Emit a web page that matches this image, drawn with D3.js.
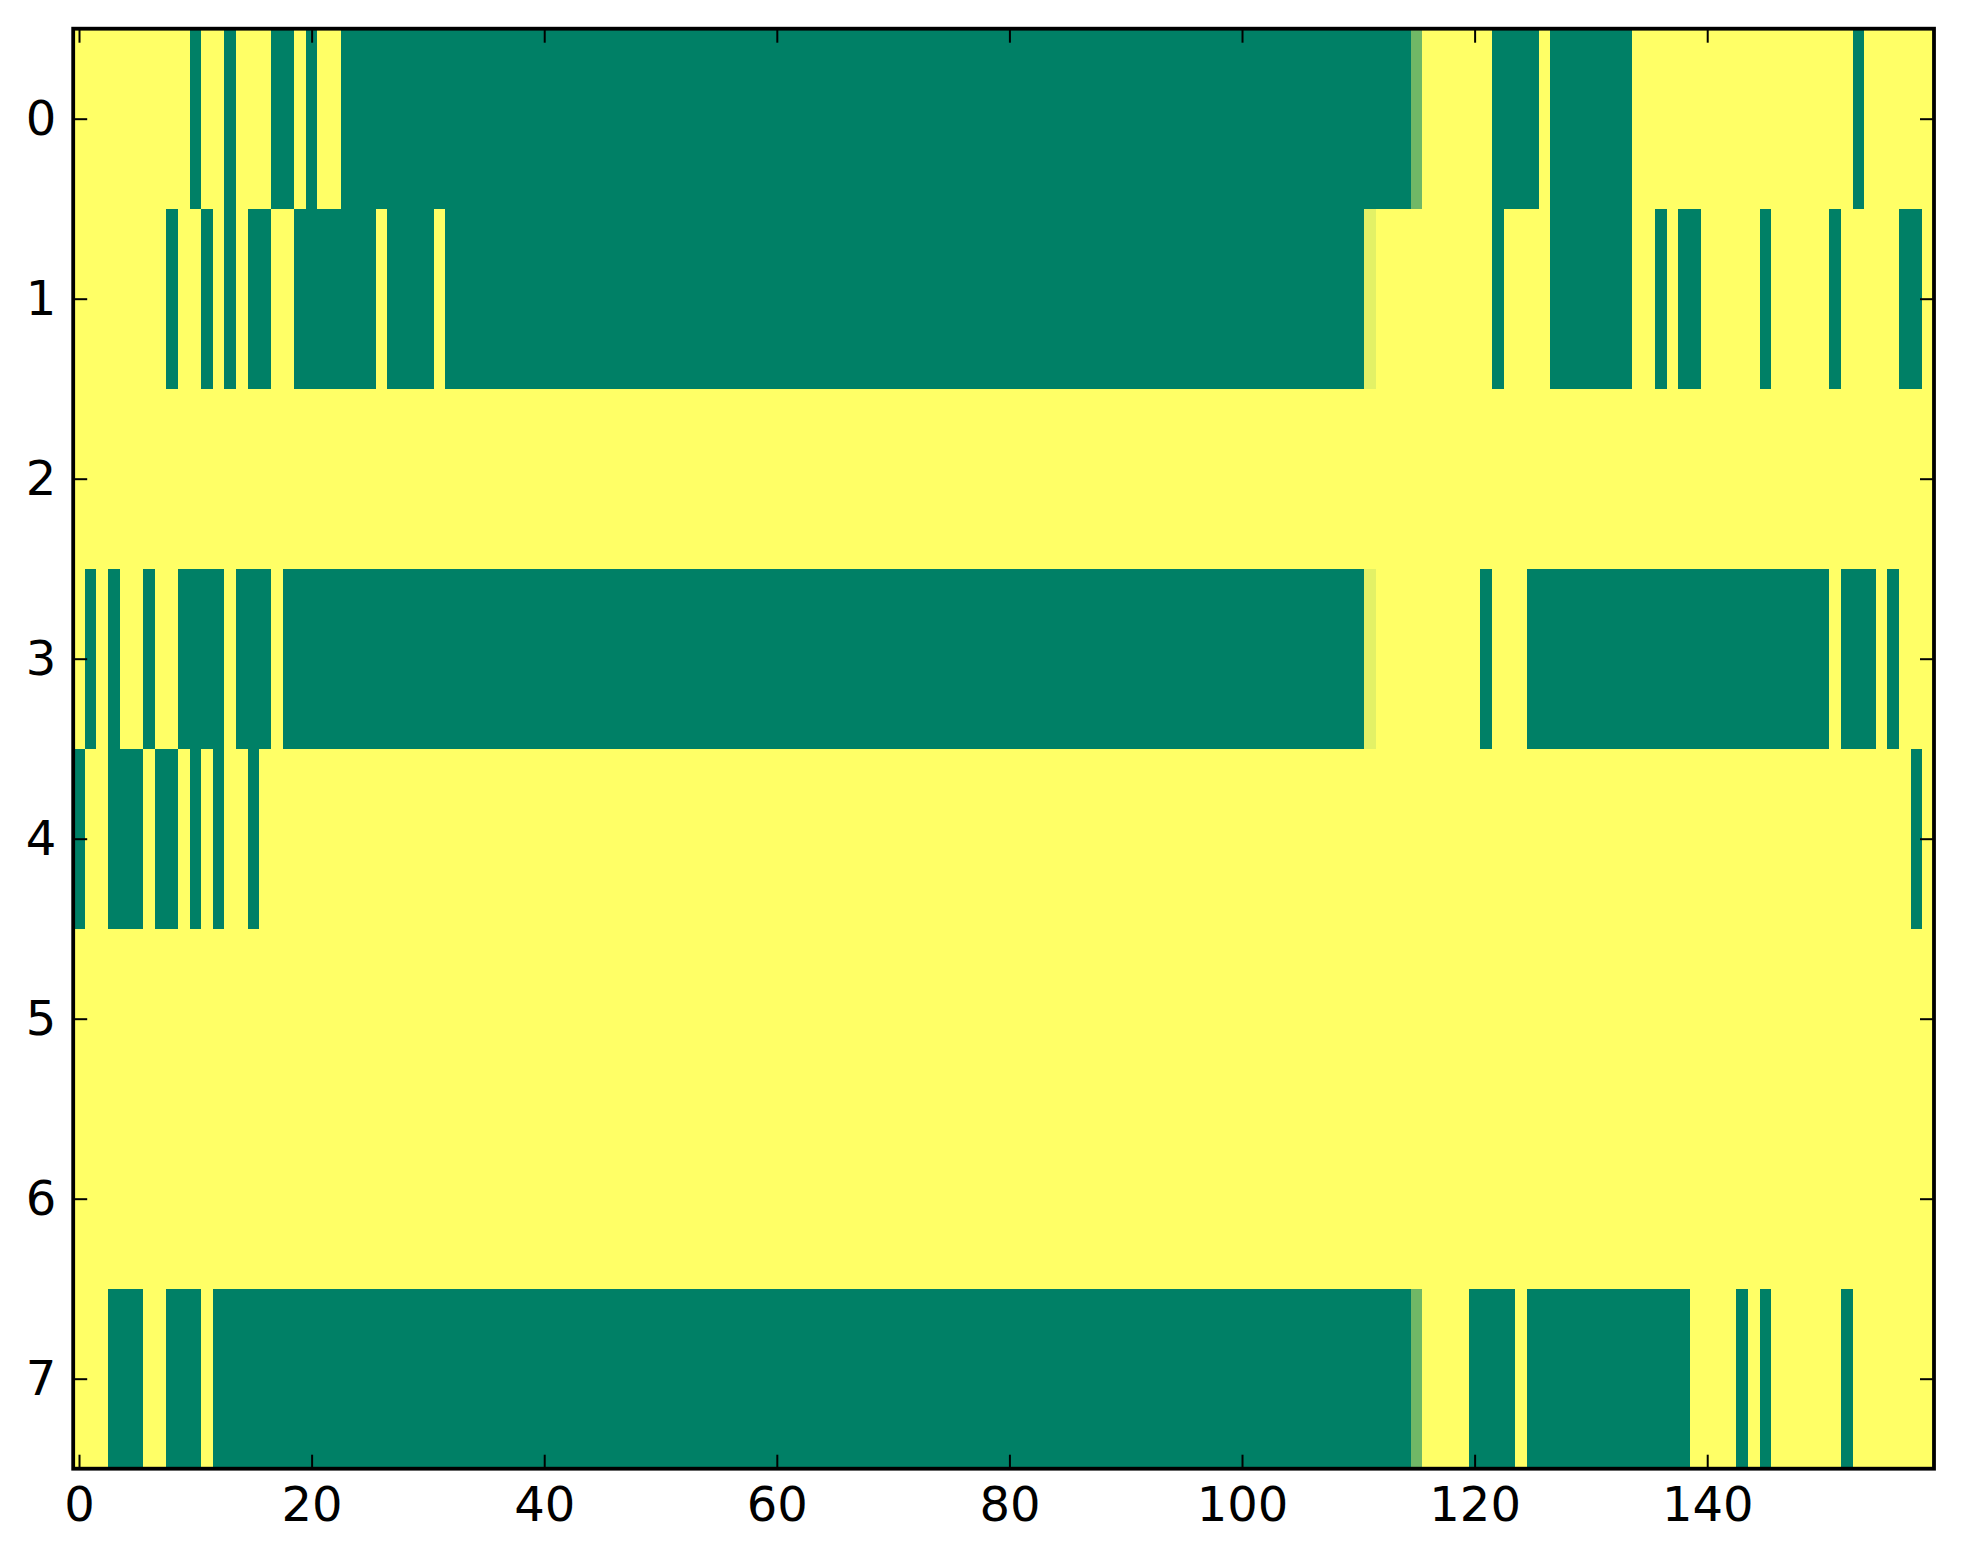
<!DOCTYPE html>
<html>
<head>
    <meta charset="utf-8" />
    <title>Heatmap (summer colormap)</title>
    <style>
        body {
            margin: 0;
            background-color: white;
        }

        .tick text {
            font: 48px "DejaVu Sans", sans-serif;
            fill: black;
        }
    </style>
    <script src="https://cdnjs.cloudflare.com/ajax/libs/d3/7.8.5/d3.min.js"></script>
</head>
<body>
    <script>
        // cell values, one string per row, groups of 10 columns
        // "0" = 0 (green), "1" = 1 (yellow), "m" = mid value, "h" = high value
        var cellLevels = { "0": 0, "1": 1, "m": 0.44, "h": 0.89 };

        var rowData = [
            "1111111111 0110111001 0110000000 0000000000 0000000000 0000000000 0000000000 0000000000 0000000000 0000000000 0000000000 00000m1111 1100001000 0000111111 1111111111 1110111111",
            "1111111101 1010100110 0000001000 0100000000 0000000000 0000000000 0000000000 0000000000 0000000000 0000000000 0000000000 0h11111111 1101111000 0000110100 1111101111 1011111001",
            "1111111111 1111111111 1111111111 1111111111 1111111111 1111111111 1111111111 1111111111 1111111111 1111111111 1111111111 1111111111 1111111111 1111111111 1111111111 1111111111",
            "1010110110 0001000100 0000000000 0000000000 0000000000 0000000000 0000000000 0000000000 0000000000 0000000000 0000000000 0h11111111 1011100000 0000000000 0000000000 0100010111",
            "0110001001 0101101111 1111111111 1111111111 1111111111 1111111111 1111111111 1111111111 1111111111 1111111111 1111111111 1111111111 1111111111 1111111111 1111111111 1111111101",
            "1111111111 1111111111 1111111111 1111111111 1111111111 1111111111 1111111111 1111111111 1111111111 1111111111 1111111111 1111111111 1111111111 1111111111 1111111111 1111111111",
            "1111111111 1111111111 1111111111 1111111111 1111111111 1111111111 1111111111 1111111111 1111111111 1111111111 1111111111 1111111111 1111111111 1111111111 1111111111 1111111111",
            "1110001100 0100000000 0000000000 0000000000 0000000000 0000000000 0000000000 0000000000 0000000000 0000000000 0000000000 00000m1111 0000100000 0000000001 1110101111 1101111111"
        ];

        var xTicks = [0, 20, 40, 60, 80, 100, 120, 140];
        var yTicks = [0, 1, 2, 3, 4, 5, 6, 7];

        var width = 1963,
            height = 1564;

        var plot = { left: 73.2, right: 1934, top: 28.7, bottom: 1468.7 };

        // flatten strings into cells
        var cells = [];
        rowData.forEach(function(str, r) {
            str.replace(/\s/g, "").split("").forEach(function(ch, c) {
                cells.push({ row: r, col: c, value: cellLevels[ch] });
            });
        });

        var nCols = rowData[0].replace(/\s/g, "").length,
            nRows = rowData.length;

        var x = d3.scaleLinear()
            .domain([-0.5, nCols - 0.5])
            .range([plot.left, plot.right]);

        var y = d3.scaleLinear()
            .domain([-0.5, nRows - 0.5])
            .range([plot.top, plot.bottom]);

        // matplotlib "summer": linear from (0, .5, .4) to (1, 1, .4)
        var color = d3.scaleLinear()
            .domain([0, 1])
            .range(["#008066", "#ffff66"])
            .interpolate(d3.interpolateRgb);

        var svg = d3.select("body").append("svg")
            .attr("width", width)
            .attr("height", height);

        svg.append("g")
            .attr("shape-rendering", "crispEdges")
            .selectAll("rect")
            .data(cells)
            .enter().append("rect")
            .attr("x", d => x(d.col - 0.5))
            .attr("y", d => y(d.row - 0.5))
            .attr("width", d => x(d.col + 0.5) - x(d.col - 0.5) + 0.6)
            .attr("height", d => y(d.row + 0.5) - y(d.row - 0.5) + 0.6)
            .attr("fill", d => color(d.value));

        var tickLen = 14;

        // axes with inward ticks on all four sides
        var bottomAxis = svg.append("g")
            .attr("transform", "translate(0," + plot.bottom + ")")
            .call(d3.axisBottom(x).tickValues(xTicks).tickSize(-tickLen).tickPadding(18));

        var topAxis = svg.append("g")
            .attr("transform", "translate(0," + plot.top + ")")
            .call(d3.axisTop(x).tickValues(xTicks).tickSize(-tickLen).tickFormat(""));

        var leftAxis = svg.append("g")
            .attr("transform", "translate(" + plot.left + ",0)")
            .call(d3.axisLeft(y).tickValues(yTicks).tickSize(-tickLen).tickPadding(17));

        var rightAxis = svg.append("g")
            .attr("transform", "translate(" + plot.right + ",0)")
            .call(d3.axisRight(y).tickValues(yTicks).tickSize(-tickLen).tickFormat(""));

        [bottomAxis, topAxis, leftAxis, rightAxis].forEach(function(g) {
            g.select(".domain").remove();
            g.selectAll(".tick line")
                .attr("stroke", "black")
                .attr("stroke-width", 2);
        });

        // frame
        svg.append("rect")
            .attr("x", plot.left)
            .attr("y", plot.top)
            .attr("width", plot.right - plot.left)
            .attr("height", plot.bottom - plot.top)
            .attr("fill", "none")
            .attr("stroke", "black")
            .attr("stroke-width", 3.8);
    </script>
</body>
</html>
